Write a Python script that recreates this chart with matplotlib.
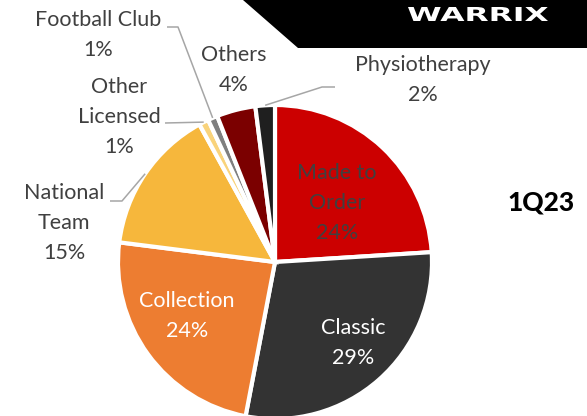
import matplotlib
matplotlib.use("Agg")
import matplotlib.pyplot as plt
import numpy as np
from matplotlib.textpath import TextPath
from matplotlib.patches import PathPatch, Polygon
from matplotlib.font_manager import FontProperties
from matplotlib.transforms import Affine2D

# data
categories = ["Made to\nOrder", "Classic", "Collection", "National\nTeam",
              "Other\nLicensed", "Football Club", "Others", "Physiotherapy"]
shares = [24, 29, 24, 15, 1, 1, 4, 2]
colors = ["#CC0000", "#333333", "#ED7D31", "#F6B73C",
          "#F9D37B", "#7F7F7F", "#7B0000", "#1F1F1F"]
period = "1Q23"
brand = "WARRIX"

W, H = 587, 416
TXT = "#404040"
LINE = "#A6A6A6"
FONT = "Lato"

fig = plt.figure(figsize=(W / 100, H / 100), dpi=100)
ax = fig.add_axes([0, 0, 1, 1])


def py(y):
    # pixel row (from top) -> data y
    return H - y


cx, cy, R = 275, py(262), 157
wedges, _ = ax.pie(shares, colors=colors, startangle=90, counterclock=False,
                   center=(cx, cy), radius=R,
                   wedgeprops=dict(edgecolor="white", linewidth=3))
ax.set_xlim(0, W)
ax.set_ylim(0, H)
ax.set_aspect("equal")
ax.axis("off")

# label placement: (x, y of first line centre, colour)
label_pos = {
    0: (337, 173, TXT),
    1: (353, 328, "white"),
    2: (187, 301, "white"),
    3: (64, 193, TXT),
    4: (119, 87, TXT),
    5: (98, 20, TXT),
    6: (234, 55, TXT),
    7: (423, 65, TXT),
}
for i, (x, y, c) in label_pos.items():
    lines = categories[i].split("\n") + [f"{shares[i]}%"]
    for k, s in enumerate(lines):
        ax.text(x, py(y + 30 * k), s, ha="center", va="center",
                fontsize=15.5, color=c, family=FONT)

# leader lines: start point of the label-side segment, elbow
leaders = {
    3: [(110, 201), (122, 201)],
    4: [(165, 123)],
    5: [(167, 27), (178, 27)],
    7: [(335, 87), (322, 87)],
}
for i, pts in leaders.items():
    w = wedges[i]
    mid = np.deg2rad((w.theta1 + w.theta2) / 2)
    ex, ey = cx + R * np.cos(mid), cy + R * np.sin(mid)
    xs = [p[0] for p in pts] + [ex]
    ys = [py(p[1]) for p in pts] + [ey]
    ax.plot(xs, ys, color=LINE, lw=1.1, solid_capstyle="butt")

# black brand banner, top right
ax.add_patch(Polygon([(243, py(0)), (298, py(48)), (W, py(48)), (W, py(0))],
                     closed=True, color="black", lw=0, zorder=5))
tp = TextPath((0, 0), brand, size=10,
              prop=FontProperties(family="DejaVu Sans", weight="bold"))
bb = tp.get_extents()
tr = (Affine2D().translate(-bb.x0, -bb.y0)
      .scale(140 / bb.width, 14 / bb.height)
      .translate(408, py(21)))
ax.add_patch(PathPatch(tr.transform_path(tp), color="white", lw=0, zorder=6))

ax.text(541, py(203), period, ha="center", va="center", fontsize=19,
        fontweight=900, color="black", family=FONT)

fig.savefig("out.png", dpi=100)
